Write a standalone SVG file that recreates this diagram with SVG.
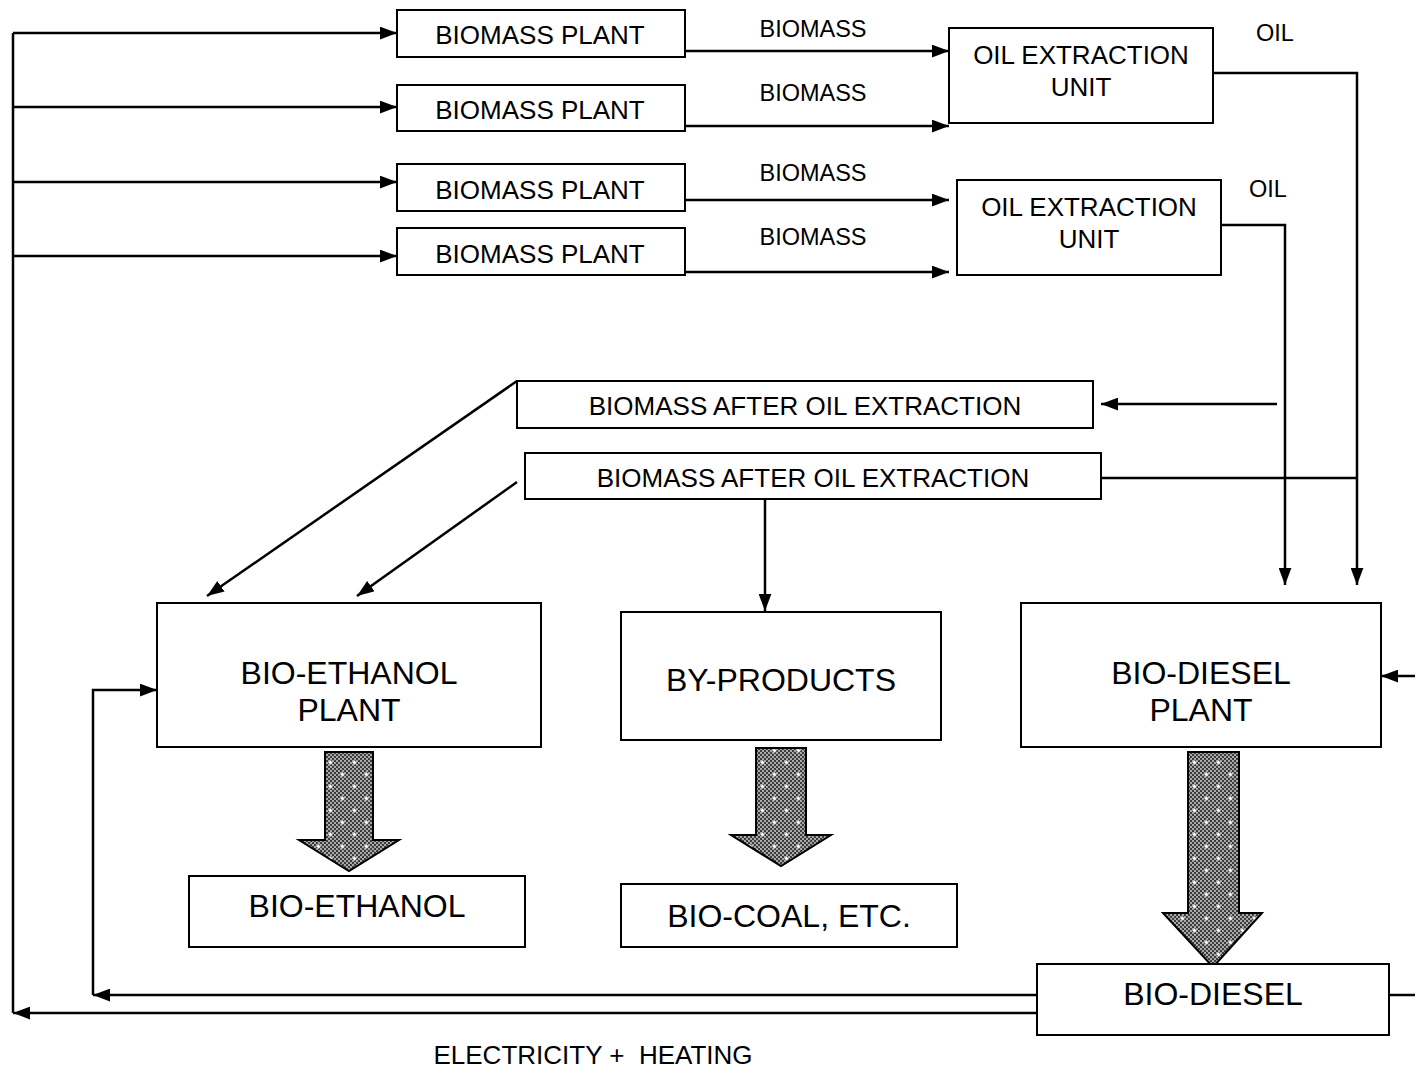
<svg xmlns="http://www.w3.org/2000/svg" width="1415" height="1072" viewBox="0 0 1415 1072">
<defs>
<style>
.box{fill:#fff;stroke:#000;stroke-width:2}
.ln{fill:none;stroke:#000;stroke-width:2.5}
.arr{marker-end:url(#ah)}
.t26{font-family:"Liberation Sans",Arial,sans-serif;font-size:26px;fill:#000;text-anchor:middle}
.t24{font-family:"Liberation Sans",Arial,sans-serif;font-size:23.5px;fill:#000;text-anchor:middle}
.t32{font-family:"Liberation Sans",Arial,sans-serif;font-size:32px;fill:#000;text-anchor:middle}
.blk{fill:url(#dots);stroke:#000;stroke-width:2}
</style>
<marker id="ah" viewBox="0 0 16 12" refX="16" refY="6" markerWidth="17" markerHeight="13" markerUnits="userSpaceOnUse" orient="auto">
<path d="M0,0 L16,6 L0,12 Z" fill="#000"/>
</marker>
<pattern id="chk" width="4" height="4" patternUnits="userSpaceOnUse">
<rect width="4" height="4" fill="#3c3c3c"/>
<rect width="2" height="2" fill="#a8a8a8"/>
<rect x="2" y="2" width="2" height="2" fill="#a8a8a8"/>
</pattern>
<pattern id="dots" width="24" height="24" patternUnits="userSpaceOnUse">
<rect width="24" height="24" fill="url(#chk)"/>
<path d="M4.5,6.5 h4 M6.5,4.5 v4 M16.5,18.5 h4 M18.5,16.5 v4" stroke="#fff" stroke-width="1.6"/>
</pattern>
</defs>

<g id="connectors">
<path class="ln" d="M13,33 V1013"/>
<path class="ln arr" d="M13,33 H397"/>
<path class="ln arr" d="M13,107 H397"/>
<path class="ln arr" d="M13,182 H397"/>
<path class="ln arr" d="M13,256 H397"/>
<path class="ln arr" d="M685,51 H949"/>
<path class="ln arr" d="M685,126 H949"/>
<path class="ln arr" d="M685,200 H949"/>
<path class="ln arr" d="M685,272 H949"/>
<path class="ln arr" d="M1213,73 H1357 V585"/>
<path class="ln arr" d="M1221,225 H1285 V585"/>
<path class="ln arr" d="M1277,404 H1101"/>
<path class="ln" d="M1101,478 H1357"/>
<path class="ln arr" d="M517,381 L207,596"/>
<path class="ln arr" d="M517,482 L357,596"/>
<path class="ln arr" d="M765,499 V611"/>
<path class="ln arr" d="M1415,676 H1381"/>
<path class="ln" d="M1389,995 H1415"/>
<path class="ln arr" d="M1037,995 H93"/>
<path class="ln arr" d="M93,995 V690 H157"/>
<path class="ln arr" d="M1037,1013 H13"/>
<text class="t24" x="813" y="37">BIOMASS</text>
<text class="t24" x="813" y="101">BIOMASS</text>
<text class="t24" x="813" y="181">BIOMASS</text>
<text class="t24" x="813" y="245">BIOMASS</text>
<text class="t24" x="1275" y="41">OIL</text>
<text class="t24" x="1268" y="197">OIL</text>
<text class="t26" x="593" y="1064" xml:space="preserve" style="white-space:pre">ELECTRICITY +  HEATING</text>
</g>

<g id="bp1"><rect class="box" x="397" y="10" width="288" height="47"/><text class="t26" x="540" y="44">BIOMASS PLANT</text></g>
<g id="bp2"><rect class="box" x="397" y="85" width="288" height="46"/><text class="t26" x="540" y="119">BIOMASS PLANT</text></g>
<g id="bp3"><rect class="box" x="397" y="164" width="288" height="47"/><text class="t26" x="540" y="199">BIOMASS PLANT</text></g>
<g id="bp4"><rect class="box" x="397" y="228" width="288" height="47"/><text class="t26" x="540" y="263">BIOMASS PLANT</text></g>

<g id="oeu1"><rect class="box" x="949" y="28" width="264" height="95"/><text class="t26" x="1081" y="64">OIL EXTRACTION</text><text class="t26" x="1081" y="96">UNIT</text></g>
<g id="oeu2"><rect class="box" x="957" y="180" width="264" height="95"/><text class="t26" x="1089" y="216">OIL EXTRACTION</text><text class="t26" x="1089" y="248">UNIT</text></g>

<g id="baoe1"><rect class="box" x="517" y="381" width="576" height="47"/><text class="t26" x="805" y="415">BIOMASS AFTER OIL EXTRACTION</text></g>
<g id="baoe2"><rect class="box" x="525" y="453" width="576" height="46"/><text class="t26" x="813" y="487">BIOMASS AFTER OIL EXTRACTION</text></g>

<g id="bioethanol-plant"><rect class="box" x="157" y="603" width="384" height="144"/><text class="t32" x="349" y="684">BIO-ETHANOL</text><text class="t32" x="349" y="721">PLANT</text></g>
<g id="byproducts"><rect class="box" x="621" y="612" width="320" height="128"/><text class="t32" x="781" y="691">BY-PRODUCTS</text></g>
<g id="biodiesel-plant"><rect class="box" x="1021" y="603" width="360" height="144"/><text class="t32" x="1201" y="684">BIO-DIESEL</text><text class="t32" x="1201" y="721">PLANT</text></g>

<g id="arrow-ethanol"><path class="blk" d="M325,752 H373 V840 H399 L349,871 L299,840 H325 Z"/></g>
<g id="arrow-byproducts"><path class="blk" d="M756,748 H806 V835 H831 L781,866 L731,835 H756 Z"/></g>
<g id="arrow-diesel"><path class="blk" d="M1188,752 H1239 V913 H1262 L1213,967 L1163,913 H1188 Z"/></g>

<g id="bioethanol"><rect class="box" x="189" y="876" width="336" height="71"/><text class="t32" x="357" y="917">BIO-ETHANOL</text></g>
<g id="biocoal"><rect class="box" x="621" y="884" width="336" height="63"/><text class="t32" x="789" y="927">BIO-COAL, ETC.</text></g>
<g id="biodiesel"><rect class="box" x="1037" y="964" width="352" height="71"/><text class="t32" x="1213" y="1005">BIO-DIESEL</text></g>
</svg>
